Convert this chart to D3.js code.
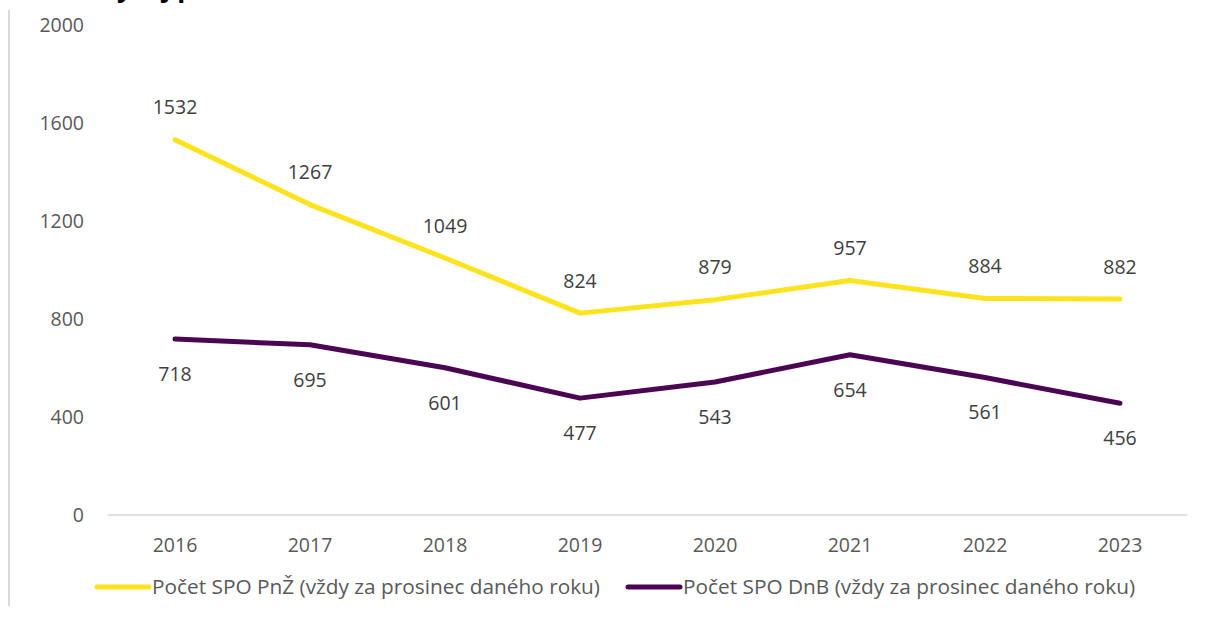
<!DOCTYPE html>
<meta charset="utf-8">
<style>
    body { margin: 0; background: #fff; }
    svg text { font-family: "Open Sans", sans-serif; }
</style>
<script src="https://d3js.org/d3.v7.min.js"></script>
<svg id="chart" width="1208" height="619"></svg>
<script>
    // data
    var years = ["2016", "2017", "2018", "2019", "2020", "2021", "2022", "2023"];
    var pnz = [1532, 1267, 1049, 824, 879, 957, 884, 882];
    var dnb = [718, 695, 601, 477, 543, 654, 561, 456];
    var yTicks = [0, 400, 800, 1200, 1600, 2000];
    var seriesNames = ["Počet SPO PnŽ (vždy za prosinec daného roku)", "Počet SPO DnB (vždy za prosinec daného roku)"];
    var colors = ["#FDE31E", "#4B0553"];

    var svg = d3.select("#chart");
    var textColor = "#595959";

    // left border of the frame
    svg.append("line")
        .attr("x1", 9).attr("x2", 9)
        .attr("y1", 10).attr("y2", 606)
        .style("stroke", "#d9d9d9").style("stroke-width", 2);

    // title, cut off by the top edge as in the original screenshot
    svg.append("text")
        .attr("x", 100).attr("y", -3)
        .style("font-size", "26px").style("font-weight", "bold")
        .style("fill", "#000")
        .text("Vývoj počtu SPO");

    var x = d3.scaleBand().domain(years).range([107.5, 1187.5]);
    var y = d3.scaleLinear().domain([0, 2000]).range([515, 25]);

    // baseline
    svg.append("line")
        .attr("x1", 107.5).attr("x2", 1187.5)
        .attr("y1", y(0)).attr("y2", y(0))
        .style("stroke", "#d9d9d9").style("stroke-width", 1.5);

    // y tick labels
    svg.append("g").selectAll("text")
        .data(yTicks)
        .enter().append("text")
        .attr("x", 84)
        .attr("y", function(d) { return y(d); })
        .attr("dy", "0.35em")
        .attr("text-anchor", "end")
        .style("font-size", "19.5px")
        .style("fill", textColor)
        .text(function(d) { return d; });

    // x labels
    svg.append("g").selectAll("text")
        .data(years)
        .enter().append("text")
        .attr("x", function(d) { return x(d) + x.bandwidth() / 2; })
        .attr("y", 545)
        .attr("dy", "0.35em")
        .attr("text-anchor", "middle")
        .style("font-size", "19.5px")
        .style("fill", textColor)
        .text(function(d) { return d; });

    var line = d3.line()
        .x(function(d, i) { return x(years[i]) + x.bandwidth() / 2; })
        .y(function(d) { return y(d); });

    [pnz, dnb].forEach(function(values, k) {
        svg.append("path")
            .datum(values)
            .attr("d", line)
            .style("fill", "none")
            .style("stroke", colors[k])
            .style("stroke-width", 5)
            .style("stroke-linecap", "round")
            .style("stroke-linejoin", "round");

        // data labels: above for the yellow series, below for the purple one
        svg.append("g").selectAll("text")
            .data(values)
            .enter().append("text")
            .attr("x", function(d, i) { return x(years[i]) + x.bandwidth() / 2; })
            .attr("y", function(d) { return y(d) + (k === 0 ? -32 : 35); })
            .attr("dy", "0.35em")
            .attr("text-anchor", "middle")
            .style("font-size", "19.5px")
            .style("fill", "#404040")
            .text(function(d) { return d; });
    });

    // legend
    var legendX = [97, 628];
    seriesNames.forEach(function(name, k) {
        var g = svg.append("g").attr("transform", "translate(" + legendX[k] + ",587)");
        g.append("line")
            .attr("x1", 0).attr("x2", 52)
            .style("stroke", colors[k])
            .style("stroke-width", 5)
            .style("stroke-linecap", "round");
        g.append("text")
            .attr("x", 55)
            .attr("dy", "0.35em")
            .style("font-size", "20.8px")
            .style("fill", textColor)
            .text(name);
    });
</script>
